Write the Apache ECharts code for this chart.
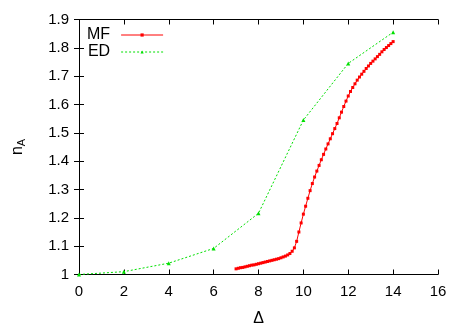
<!DOCTYPE html>
<html>
<head>
<meta charset="utf-8">
<script src="https://cdn.jsdelivr.net/npm/echarts@6/dist/echarts.min.js"></script>
<style>
html,body{margin:0;padding:0;background:#fff;}
#c{width:467px;height:327px;}
</style>
</head>
<body>
<div id="c"></div>
<script>
// ED data
var edX = [0, 2, 4, 6, 8, 10, 12, 14];
var edY = [1.000, 1.010, 1.040, 1.092, 1.216, 1.545, 1.745, 1.855];

// MF data (Delta from 7.0 to 14.0 step 0.1)
var mfX = [7.0,7.1,7.2,7.3,7.4,7.5,7.6,7.7,7.8,7.9,
           8.0,8.1,8.2,8.3,8.4,8.5,8.6,8.7,8.8,8.9,
           9.0,9.1,9.2,9.3,9.4,9.5,9.6,9.7,9.8,9.9,
           10.0,10.1,10.2,10.3,10.4,10.5,10.6,10.7,10.8,10.9,
           11.0,11.1,11.2,11.3,11.4,11.5,11.6,11.7,11.8,11.9,
           12.0,12.1,12.2,12.3,12.4,12.5,12.6,12.7,12.8,12.9,
           13.0,13.1,13.2,13.3,13.4,13.5,13.6,13.7,13.8,13.9,14.0];
var mfY = [1.020,1.022,1.024,1.025,1.027,1.029,1.031,1.033,1.034,1.036,
           1.038,1.040,1.042,1.044,1.046,1.048,1.050,1.052,1.054,1.056,
           1.059,1.062,1.065,1.069,1.074,1.082,1.094,1.117,1.150,1.182,
           1.213,1.241,1.269,1.296,1.321,1.344,1.365,1.385,1.405,1.424,
           1.443,1.461,1.479,1.497,1.515,1.533,1.553,1.573,1.593,1.612,
           1.630,1.646,1.660,1.673,1.686,1.697,1.707,1.717,1.727,1.736,
           1.745,1.753,1.761,1.769,1.777,1.786,1.794,1.801,1.808,1.815,1.822];

var seriesNames = ['MF', 'ED'];
var xTitle = 'Δ';

function pairs(xs, ys){ return xs.map(function(x,i){ return [x, ys[i]]; }); }

var FONT = '"Liberation Sans", Arial, sans-serif';
var chart = echarts.init(document.getElementById('c'), null, {renderer:'canvas'});
var axisLineStyle = {color:'#000', width:1};
chart.setOption({
  animation:false,
  backgroundColor:'#fff',
  grid:{left:79, right:29, top:19.5, bottom:52.5, containLabel:false, outerBoundsMode:'none'},
  legend:{
    show:true, orient:'vertical', left:82, top:22, align:'right',
    itemWidth:42, itemHeight:4, itemGap:1,
    lineStyle:{width:1},
    textStyle:{fontFamily:FONT, fontSize:16, color:'#000', padding:[0,6,0,0], lineHeight:16},
    data:seriesNames
  },
  xAxis:[{
    type:'value', min:0, max:16, interval:2, position:'bottom',
    name:xTitle, nameLocation:'middle', nameGap:36,
    nameTextStyle:{fontFamily:FONT, fontSize:16, color:'#000'},
    axisLine:{show:true, lineStyle:axisLineStyle},
    axisTick:{show:true, inside:true, length:5, lineStyle:{color:'#000'}},
    axisLabel:{fontFamily:FONT, fontSize:15, color:'#000', margin:10},
    splitLine:{show:false}
  },{
    type:'value', min:0, max:16, interval:2, position:'top',
    axisLine:{show:true, lineStyle:axisLineStyle},
    axisTick:{show:true, inside:true, length:5, lineStyle:{color:'#000'}},
    axisLabel:{show:false}, splitLine:{show:false}
  }],
  yAxis:[{
    type:'value', min:1, max:1.9, interval:0.1, position:'left',
    name:'{n|n}{s|A}', nameLocation:'middle', nameGap:52, nameRotate:90,
    nameTextStyle:{fontFamily:FONT, color:'#000',
      rich:{n:{fontFamily:FONT, fontSize:16, color:'#000'},
            s:{fontFamily:FONT, fontSize:11, color:'#000', padding:[8,0,0,0]}}},
    axisLine:{show:true, lineStyle:axisLineStyle},
    axisTick:{show:true, inside:true, length:5, lineStyle:{color:'#000'}},
    axisLabel:{fontFamily:FONT, fontSize:15, color:'#000', margin:10,
      formatter:function(v){ return String(+v.toFixed(1)); }},
    splitLine:{show:false}
  },{
    type:'value', min:1, max:1.9, interval:0.1, position:'right',
    axisLine:{show:true, lineStyle:axisLineStyle},
    axisTick:{show:true, inside:true, length:5, lineStyle:{color:'#000'}},
    axisLabel:{show:false}, splitLine:{show:false}
  }],
  series:[{
    name:seriesNames[0], type:'line', xAxisIndex:0, yAxisIndex:0,
    data:pairs(mfX, mfY),
    symbol:'rect', symbolSize:3, showSymbol:true,
    lineStyle:{color:'#ff0000', width:1},
    itemStyle:{color:'#ff0000'},
    z:3
  },{
    name:seriesNames[1], type:'line', xAxisIndex:0, yAxisIndex:0,
    data:pairs(edX, edY),
    symbol:'triangle', symbolSize:4, showSymbol:true,
    lineStyle:{color:'#00e000', width:1, type:[2,2]},
    itemStyle:{color:'#00e000'},
    z:2
  }]
});
</script>
</body>
</html>
